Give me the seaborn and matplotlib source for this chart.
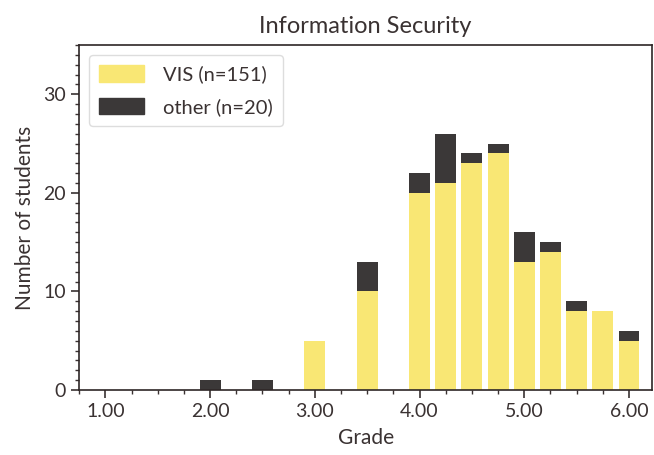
import pandas as pd
import seaborn as sns
import matplotlib.pyplot as plt
from matplotlib.ticker import MultipleLocator, FormatStrFormatter

# counts per grade
grades = [2.0, 2.5, 3.0, 3.5, 4.0, 4.25, 4.5, 4.75, 5.0, 5.25, 5.5, 5.75, 6.0]
vis_counts = [0, 0, 5, 10, 20, 21, 23, 24, 13, 14, 8, 8, 5]
other_counts = [1, 1, 0, 3, 2, 5, 1, 1, 3, 1, 1, 0, 1]
vis_label = "VIS (n=151)"
other_label = "other (n=20)"

sns.set_theme(style="ticks")
text_color = "#3a3232"
plt.rcParams['font.family'] = ['Lato', 'DejaVu Sans']
plt.rcParams['text.color'] = text_color
plt.rcParams['axes.labelcolor'] = text_color
plt.rcParams['xtick.color'] = text_color
plt.rcParams['ytick.color'] = text_color
plt.rcParams['axes.edgecolor'] = "#2e2626"

yellow = '#f9e774'
dark = '#3b3838'

df = pd.DataFrame({
    'Grade': grades * 2,
    'Count': vis_counts + other_counts,
    'Group': [vis_label] * len(grades) + [other_label] * len(grades),
})

fig = plt.figure(figsize=(6.54, 4.55), dpi=100)
ax = fig.add_axes([0.121, 0.143, 0.876, 0.758])

sns.histplot(data=df, x='Grade', weights='Count', hue='Group',
             hue_order=[other_label, vis_label], multiple='stack',
             binwidth=0.25, binrange=(0.875, 6.125), shrink=0.8, alpha=1,
             linewidth=0, legend=False,
             palette={vis_label: yellow, other_label: dark}, ax=ax)

ax.set_xlim(0.75, 6.22)
ax.set_ylim(0, 35)
ax.xaxis.set_major_locator(MultipleLocator(1))
ax.xaxis.set_minor_locator(MultipleLocator(0.25))
ax.xaxis.set_major_formatter(FormatStrFormatter('%.2f'))
ax.yaxis.set_major_locator(MultipleLocator(10))
ax.yaxis.set_minor_locator(MultipleLocator(1))
ax.tick_params(which='major', length=6, width=1.2, labelsize=14)
ax.tick_params(which='minor', length=3, width=1)
for s in ax.spines.values():
    s.set_linewidth(1.2)

ax.set_title('Information Security', fontsize=17, pad=9)
ax.set_xlabel('Grade', fontsize=15, labelpad=6)
ax.set_ylabel('Number of students', fontsize=15, labelpad=6)

# legend: VIS first, like the original
handles = [plt.Rectangle((0, 0), 1, 1, color=yellow),
           plt.Rectangle((0, 0), 1, 1, color=dark)]
ax.legend(handles, [vis_label, other_label], loc='upper left', fontsize=14.5,
          handlelength=2.2, handleheight=0.9, framealpha=1, edgecolor='#dddddd',
          borderpad=0.5, labelspacing=0.7, handletextpad=0.95)

plt.savefig("out.png", dpi=100)
